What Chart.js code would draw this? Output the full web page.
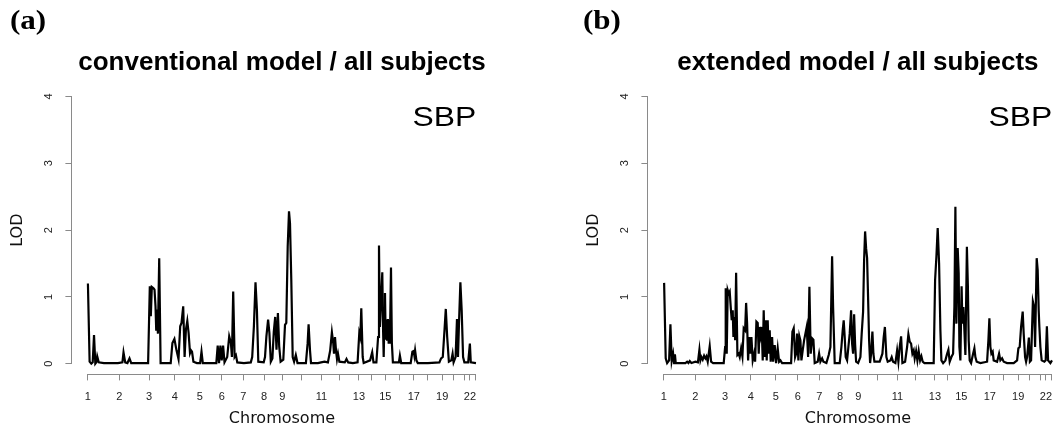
<!DOCTYPE html>
<html>
<head>
<meta charset="utf-8">
<script src="https://cdn.jsdelivr.net/npm/chart.js@4/dist/chart.umd.min.js"></script>
<style>
  html, body { margin: 0; padding: 0; background: #fff; }
  body { width: 1060px; height: 432px; overflow: hidden; position: relative; }
  canvas { position: absolute; top: 0; }
  #panel-a { left: 0; }
  #panel-b { left: 576px; }
</style>
</head>
<body>
<canvas id="panel-a" width="530" height="432"></canvas>
<canvas id="panel-b" width="530" height="432"></canvas>
<script>
// genome position (cM) where each chromosome starts, and the end of chr 22
const chromStarts = [0, 314, 612, 869, 1119, 1338, 1555, 1761, 1944, 2140, 2336,
  2518, 2711, 2833, 2974, 3116, 3259, 3401, 3543, 3661, 3763, 3820];
const genomeEnd = 3881;
const labelledChroms = [1, 2, 3, 4, 5, 6, 7, 8, 9, 11, 13, 15, 17, 19, 22];
const lodTicks = [0, 1, 2, 3, 4];

// (a) conventional model / all subjects
const convPos = [
  0, 17, 34, 48, 61, 74, 84, 93, 108, 160,
  237, 300, 345, 356, 373, 395, 416, 433, 520, 602,
  619, 629, 639, 656, 666, 676, 683, 690, 700, 713,
  727, 790, 828, 845, 865, 886, 906, 923, 936, 953,
  967, 980, 994, 1007, 1021, 1031, 1041, 1055, 1090, 1122,
  1136, 1149, 1220, 1284, 1298, 1311, 1325, 1338, 1352, 1366,
  1393, 1413, 1430, 1440, 1453, 1467, 1480, 1494, 1560, 1629,
  1643, 1660, 1676, 1690, 1704, 1758, 1771, 1785, 1802, 1815,
  1829, 1845, 1859, 1873, 1886, 1900, 1913, 1927, 1954, 1971,
  1984, 1998, 2011, 2021, 2034, 2048, 2062, 2079, 2096, 2180,
  2197, 2207, 2221, 2231, 2300, 2332, 2366, 2400, 2423, 2440,
  2454, 2461, 2471, 2481, 2491, 2501, 2515, 2569, 2586, 2603,
  2650, 2697, 2714, 2724, 2734, 2748, 2758, 2822, 2843, 2856,
  2885, 2902, 2911, 2920, 2930, 2944, 2952, 2958, 2964, 2971,
  2978, 2985, 2992, 3000, 3008, 3014, 3020, 3031, 3040, 3050,
  3110, 3120, 3133, 3228, 3245, 3258, 3265, 3272, 3285, 3299,
  3400, 3515, 3532, 3549, 3566, 3579, 3593, 3610, 3634, 3647,
  3657, 3677, 3691, 3701, 3711, 3725, 3738, 3752, 3765, 3803,
  3820, 3829, 3881
];
const convLod = [
  1.20, 0.03, 0.00, 0.02, 0.43, 0.00, 0.02, 0.11, 0.02, 0.01,
  0.01, 0.01, 0.02, 0.17, 0.02, 0.01, 0.08, 0.01, 0.01, 0.01,
  1.16, 0.71, 1.15, 1.13, 1.11, 0.86, 0.51, 0.81, 0.45, 1.58,
  0.01, 0.01, 0.01, 0.31, 0.37, 0.20, 0.07, 0.56, 0.61, 0.86,
  0.10, 0.51, 0.64, 0.46, 0.16, 0.20, 0.18, 0.03, 0.01, 0.01,
  0.18, 0.01, 0.01, 0.01, 0.27, 0.01, 0.27, 0.05, 0.27, 0.02,
  0.10, 0.41, 0.31, 0.10, 1.08, 0.10, 0.13, 0.02, 0.01, 0.02,
  0.10, 0.56, 1.22, 0.81, 0.03, 0.02, 0.10, 0.41, 0.66, 0.46,
  0.03, 0.08, 0.48, 0.70, 0.21, 0.76, 0.26, 0.03, 0.06, 0.58,
  0.61, 1.75, 2.28, 2.10, 1.25, 0.10, 0.03, 0.13, 0.01, 0.01,
  0.30, 0.59, 0.20, 0.01, 0.01, 0.02, 0.03, 0.02, 0.20, 0.47,
  0.30, 0.15, 0.40, 0.20, 0.07, 0.15, 0.03, 0.02, 0.07, 0.02,
  0.01, 0.02, 0.46, 0.40, 0.83, 0.10, 0.01, 0.05, 0.17, 0.02,
  0.02, 0.40, 1.77, 0.55, 0.90, 1.37, 0.50, 0.10, 0.55, 1.06,
  0.36, 0.66, 0.36, 0.67, 0.30, 0.65, 0.30, 1.44, 0.30, 0.02,
  0.02, 0.12, 0.01, 0.01, 0.18, 0.19, 0.12, 0.20, 0.05, 0.01,
  0.01, 0.02, 0.08, 0.10, 0.50, 0.82, 0.40, 0.03, 0.05, 0.15,
  0.02, 0.10, 0.67, 0.10, 0.60, 1.22, 0.80, 0.10, 0.02, 0.02,
  0.30, 0.02, 0.01
];

// (b) extended model / all subjects
const extPos = [
  2, 18, 32, 52, 65, 78, 92, 102, 110, 118,
  215, 232, 245, 258, 275, 315, 340, 355, 365, 375,
  388, 402, 415, 425, 438, 458, 472, 492, 598, 612,
  618, 628, 638, 648, 658, 668, 678, 688, 695, 705,
  712, 722, 735, 748, 758, 772, 785, 798, 812, 822,
  832, 842, 852, 865, 875, 888, 902, 912, 925, 938,
  948, 958, 968, 978, 988, 998, 1008, 1018, 1028, 1038,
  1048, 1058, 1068, 1082, 1092, 1108, 1122, 1138, 1152, 1165,
  1182, 1272, 1285, 1298, 1312, 1322, 1332, 1345, 1355, 1365,
  1375, 1388, 1402, 1415, 1428, 1442, 1455, 1468, 1482, 1495,
  1508, 1538, 1552, 1565, 1582, 1595, 1625, 1648, 1665, 1682,
  1692, 1708, 1758, 1775, 1788, 1798, 1808, 1818, 1832, 1845,
  1858, 1872, 1882, 1892, 1902, 1912, 1922, 1942, 1965, 1978,
  1992, 2002, 2012, 2022, 2032, 2042, 2052, 2062, 2072, 2085,
  2095, 2105, 2158, 2185, 2198, 2210, 2225, 2238, 2265, 2278,
  2292, 2315, 2332, 2345, 2358, 2372, 2385, 2412, 2432, 2445,
  2458, 2472, 2485, 2498, 2508, 2522, 2535, 2548, 2562, 2575,
  2588, 2605, 2698, 2712, 2725, 2738, 2752, 2765, 2775, 2792,
  2815, 2832, 2845, 2858, 2875, 2892, 2905, 2915, 2925, 2938,
  2948, 2955, 2965, 2977, 2985, 2995, 3005, 3015, 3030, 3040,
  3048, 3058, 3072, 3092, 3105, 3115, 3128, 3165, 3232, 3245,
  3255, 3265, 3275, 3288, 3298, 3332, 3352, 3365, 3382, 3398,
  3432, 3498, 3532, 3545, 3558, 3572, 3588, 3598, 3612, 3622,
  3632, 3650, 3660, 3672, 3690, 3702, 3712, 3728, 3738, 3748,
  3755, 3765, 3778, 3805, 3818, 3830, 3842, 3865, 3881
];
const extLod = [
  1.21, 0.08, 0.01, 0.05, 0.59, 0.04, 0.15, 0.01, 0.14, 0.01,
  0.01, 0.03, 0.01, 0.04, 0.01, 0.03, 0.02, 0.21, 0.05, 0.10,
  0.06, 0.12, 0.08, 0.11, 0.03, 0.26, 0.03, 0.01, 0.01, 0.25,
  1.13, 0.15, 1.10, 1.05, 1.08, 0.85, 0.65, 0.80, 0.40, 0.70,
  0.35, 1.36, 0.13, 0.15, 0.10, 0.23, 0.11, 0.53, 0.50, 0.91,
  0.60, 0.05, 0.40, 0.15, 0.40, 0.05, 0.15, 0.03, 0.63, 0.61,
  0.15, 0.55, 0.43, 0.55, 0.05, 0.80, 0.10, 0.65, 0.05, 0.65,
  0.15, 0.50, 0.03, 0.40, 0.03, 0.28, 0.01, 0.23, 0.03, 0.05,
  0.01, 0.01, 0.48, 0.53, 0.10, 0.15, 0.45, 0.05, 0.41, 0.35,
  0.05, 0.20, 0.35, 0.45, 0.55, 0.10, 1.15, 0.15, 0.38, 0.36,
  0.01, 0.03, 0.15, 0.03, 0.08, 0.03, 0.01, 0.13, 0.25, 1.61,
  0.85, 0.01, 0.01, 0.25, 0.50, 0.65, 0.40, 0.10, 0.05, 0.25,
  0.45, 0.80, 0.30, 0.15, 0.74, 0.30, 0.03, 0.01, 0.10, 0.45,
  0.78, 1.55, 1.98, 1.73, 1.58, 0.98, 0.35, 0.01, 0.15, 0.48,
  0.15, 0.03, 0.03, 0.15, 0.40, 0.55, 0.10, 0.03, 0.05, 0.10,
  0.03, 0.01, 0.20, 0.03, 0.25, 0.41, 0.01, 0.03, 0.25, 0.44,
  0.33, 0.30, 0.15, 0.20, 0.08, 0.19, 0.05, 0.19, 0.05, 0.11,
  0.03, 0.01, 0.01, 1.25, 1.60, 2.03, 1.50, 0.50, 0.05, 0.01,
  0.05, 0.15, 0.21, 0.03, 0.10, 0.15, 0.85, 2.35, 0.60, 1.73,
  1.35, 0.25, 0.05, 1.16, 0.60, 0.85, 0.50, 0.13, 1.75, 1.15,
  0.35, 0.05, 0.01, 0.15, 0.23, 0.10, 0.03, 0.01, 0.03, 0.35,
  0.68, 0.25, 0.15, 0.18, 0.05, 0.03, 0.15, 0.05, 0.08, 0.03,
  0.01, 0.01, 0.05, 0.23, 0.25, 0.55, 0.78, 0.45, 0.10, 0.03,
  0.10, 0.39, 0.03, 0.05, 0.93, 0.85, 0.25, 1.58, 1.40, 0.80,
  0.55, 0.25, 0.05, 0.03, 0.05, 0.56, 0.05, 0.01, 0.05
];

const axisGrey = "#8a8a8a";
const sansFont = "'Liberation Sans', Arial, Helvetica, sans-serif";
const wideFont = "'DejaVu Sans', Verdana, sans-serif";

// R-style axis lines (only tick-to-tick), the trait label and the panel tag
function decorations(tag, tagX) {
  return {
    id: "decorations",
    afterDraw(chart) {
      const { ctx, chartArea, scales: { x, y } } = chart;
      ctx.save();
      ctx.strokeStyle = axisGrey;
      ctx.lineWidth = 1;
      ctx.beginPath();
      const yb = Math.round(chartArea.bottom) + 0.5;
      ctx.moveTo(x.getPixelForValue(chromStarts[0]), yb);
      ctx.lineTo(x.getPixelForValue(genomeEnd), yb);
      const xl = Math.round(chartArea.left) - 0.5;
      ctx.moveTo(xl, y.getPixelForValue(lodTicks[0]));
      ctx.lineTo(xl, y.getPixelForValue(lodTicks[lodTicks.length - 1]));
      ctx.stroke();

      ctx.fillStyle = "#000";
      ctx.textAlign = "center";
      ctx.textBaseline = "alphabetic";
      ctx.font = "27px " + sansFont;
      ctx.save();
      ctx.translate(x.getPixelForValue(3566), y.getPixelForValue(3.56));
      ctx.scale(1.18, 1);
      ctx.fillText("SBP", 0, 0);
      ctx.restore();

      ctx.textAlign = "left";
      ctx.font = "bold 27px 'Liberation Serif', 'Times New Roman', serif";
      ctx.translate(tagX, 28.5);
      ctx.scale(1.15, 1);
      ctx.fillText(tag, 0, 0);
      ctx.restore();
    }
  };
}

function createPanel(canvasId, pos, lod, title, tag, tagX) {
  const ctx = document.getElementById(canvasId).getContext("2d");
  return new Chart(ctx, {
    type: "line",
    data: {
      datasets: [{
        data: pos.map((p, i) => ({ x: p, y: lod[i] })),
        borderColor: "#000",
        borderWidth: 2.2,
        pointRadius: 0,
        tension: 0,
        fill: false,
      }],
    },
    options: {
      responsive: false,
      animation: false,
      devicePixelRatio: 1,
      layout: { padding: { left: 0, right: 38.5, top: 0, bottom: 0 } },
      scales: {
        x: {
          type: "linear",
          min: -155.2,
          max: genomeEnd + 155.2,
          afterBuildTicks: (s) => {
            s.ticks = chromStarts.concat([genomeEnd]).map((v) => ({ value: v }));
          },
          afterFit: (s) => { s.height = 57.6; },
          border: { display: false },
          grid: { drawOnChartArea: false, tickLength: 6, color: axisGrey },
          ticks: {
            autoSkip: false,
            maxRotation: 0,
            padding: 10,
            color: "#222",
            font: { family: sansFont, size: 11 },
            callback: (v) => {
              const n = chromStarts.indexOf(v) + 1;
              return labelledChroms.includes(n) ? String(n) : "";
            },
          },
          title: {
            display: true,
            text: "Chromosome",
            color: "#111",
            font: { family: wideFont, size: 16 },
            padding: { top: 0, bottom: 3.4 },
          },
        },
        y: {
          type: "linear",
          min: -0.16,
          max: 4.16,
          afterBuildTicks: (s) => {
            s.ticks = lodTicks.map((v) => ({ value: v }));
          },
          afterFit: (s) => { s.width = 72.4; },
          border: { display: false },
          grid: { drawOnChartArea: false, tickLength: 7, color: axisGrey },
          ticks: {
            autoSkip: false,
            minRotation: 90,
            maxRotation: 90,
            crossAlign: "center",
            padding: 13.3,
            color: "#222",
            font: { family: sansFont, size: 11 },
          },
          title: {
            display: true,
            text: "LOD",
            color: "#111",
            font: { family: wideFont, size: 16 },
            padding: { top: 8, bottom: 0 },
          },
        },
      },
      plugins: {
        legend: { display: false },
        tooltip: { enabled: false },
        title: {
          display: true,
          text: title,
          fullSize: false,
          color: "#000",
          font: { family: sansFont, size: 26, weight: "bold" },
          padding: { top: 47.4, bottom: 7.2 },
        },
      },
    },
    plugins: [decorations(tag, tagX)],
  });
}

const conventionalChart = createPanel("panel-a", convPos, convLod,
  "conventional model / all subjects", "(a)", 10);
const extendedChart = createPanel("panel-b", extPos, extLod,
  "extended model / all subjects", "(b)", 7);
</script>
</body>
</html>
